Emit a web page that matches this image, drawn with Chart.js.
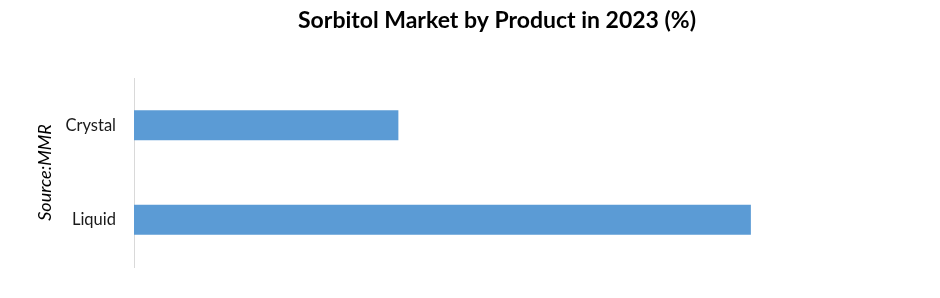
<!DOCTYPE html>
<html>
<head>
<meta charset="utf-8">
<script src="https://cdn.jsdelivr.net/npm/chart.js@4/dist/chart.umd.min.js"></script>
<style>
html,body{margin:0;padding:0;background:#fff;}
#wrap{width:940px;height:298px;position:relative;}
</style>
</head>
<body>
<div id="wrap"><canvas id="c" width="940" height="298"></canvas></div>
<script>
const categories = ["Crystal", "Liquid"];
const shareValues = [30, 70];
const chartTitle = "Sorbitol Market by Product in 2023 (%)";
const sourceLabel = "Source:MMR";

const titlePlugin = {
  id: 'centeredTitle',
  afterDraw(chart) {
    const ctx = chart.ctx;
    ctx.save();
    ctx.font = 'bold 23px Lato';
    ctx.fillStyle = '#000';
    ctx.textAlign = 'center';
    ctx.textBaseline = 'middle';
    ctx.fillText(chartTitle, 497, 21);
    ctx.restore();
  }
};

new Chart(document.getElementById('c'), {
  type: 'bar',
  data: {
    labels: categories,
    datasets: [{
      data: shareValues,
      backgroundColor: '#5b9bd5',
      borderWidth: 0,
      categoryPercentage: 0.317,
      barPercentage: 1
    }]
  },
  options: {
    indexAxis: 'y',
    responsive: false,
    animation: false,
    layout: { padding: { left: 28, right: 101, top: 78, bottom: 31 } },
    plugins: {
      legend: { display: false },
      tooltip: { enabled: false },
      title: { display: false }
    },
    scales: {
      x: { display: false, min: 0, max: 80 },
      y: {
        grid: { display: false, drawTicks: false },
        border: { display: true, color: '#d9d9d9', width: 1 },
        ticks: { color: '#1a1a1a', font: { family: 'Lato', size: 16.5 }, padding: 18 },
        title: {
          display: true,
          text: sourceLabel,
          color: '#000',
          font: { family: 'Lato', size: 18, style: 'italic' },
          padding: { top: 6, bottom: 0 }
        },
        afterFit: (s) => { s.width = 106; }
      }
    }
  },
  plugins: [titlePlugin]
});
</script>
</body>
</html>
